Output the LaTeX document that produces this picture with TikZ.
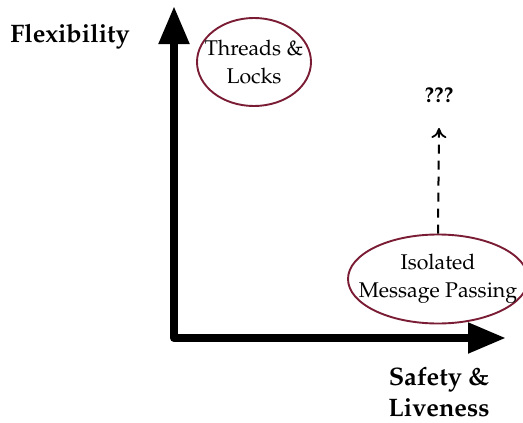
\documentclass[tikz,border=0pt]{standalone}
\usepackage[T1]{fontenc}
\renewcommand{\rmdefault}{ppl}
\usetikzlibrary{arrows.meta,shapes.geometric}
\definecolor{wine}{RGB}{122,28,52}

\tikzset{
  axis/.style={line width=8pt, line join=round, line cap=round,
    {Triangle[length=38pt,width=29pt]}-{Triangle[length=38pt,width=29pt]}},
  bubble/.style={ellipse, draw=wine, line width=1.9pt, inner sep=0pt},
  bubbletext/.style={align=center, font=\fontsize{21.3}{28.5}\selectfont},
  axislabel/.style={align=center, font=\fontsize{25.3}{31}\selectfont\bfseries},
  hint/.style={dash pattern=on 9pt off 7pt, line width=2pt,
    -{To[length=10pt,width=15pt,line width=1.8pt]}}
}

\begin{document}
\begin{tikzpicture}[x=1pt,y=-1pt]
\useasboundingbox (0,0) rectangle (523,423);

% axes
\coordinate (origin) at (174,338);
\coordinate (ytop) at (174,6);
\coordinate (xend) at (506,338);
\draw[axis] (ytop) -- (origin) -- (xend);

\node[axislabel] (flex) at (70,37) {Flexibility};
\node[axislabel] (safe) at (439,392) {Safety \&\\Liveness};

% approaches: fixed-size ellipses with the caption set in the middle
\node[bubble, minimum width=114pt, minimum height=88pt,
  label={[bubbletext]center:Threads \&\\Locks}] (tl) at (254,62) {};
\node[bubble, minimum width=180pt, minimum height=89pt,
  label={[bubbletext]center:Isolated\\Message Passing}] (iso) at (438,279) {};

\node[font=\fontsize{21.5}{24}\selectfont\bfseries] (q) at (439,95) {???};
\coordinate (qtip) at (439,128);
\draw[hint] (iso.north) -- (qtip);
\end{tikzpicture}
\end{document}
